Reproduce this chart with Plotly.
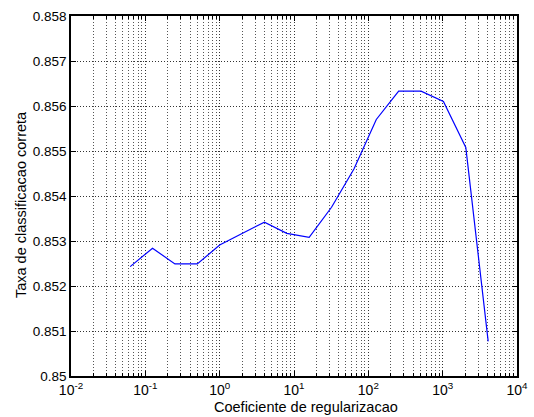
import numpy as np
import plotly.graph_objects as go

# Data
coef = [2.0 ** k for k in range(-4, 13)]
taxa = [0.85243, 0.85284, 0.85249, 0.85249, 0.85291, 0.85317, 0.85342, 0.85317,
        0.85308, 0.85375, 0.85460, 0.85570, 0.85633, 0.85633, 0.85610, 0.85508, 0.85077]

x_major = [1e-2, 1e-1, 1e0, 1e1, 1e2, 1e3, 1e4]
x_major_text = ["10<sup>-2</sup>", "10<sup>-1</sup>", "10<sup>0</sup>", "10<sup>1</sup>",
                "10<sup>2</sup>", "10<sup>3</sup>", "10<sup>4</sup>"]
y_ticks = [0.850, 0.851, 0.852, 0.853, 0.854, 0.855, 0.856, 0.857, 0.858]
y_ticks_text = ["0.85", "0.851", "0.852", "0.853", "0.854", "0.855", "0.856", "0.857", "0.858"]

x_title = "Coeficiente de regularizacao"
y_title = "Taxa de classificacao correta"

x_minor = [m * 10.0 ** d for d in range(-2, 4) for m in range(2, 10)]

fig = go.Figure()
fig.add_trace(go.Scatter(x=coef, y=taxa, mode="lines",
                         line=dict(color="#0000ff", width=1.2), showlegend=False))

font = dict(family="Liberation Sans, Arial, sans-serif", color="black")
dots = "1px,2px"

fig.update_layout(
    width=534, height=417,
    margin=dict(l=71, r=17, t=16, b=41),
    paper_bgcolor="white", plot_bgcolor="white",
    font=dict(size=12, **font),
    xaxis=dict(
        type="log", range=[-2, 4], automargin=False,
        tickmode="array", tickvals=x_major, ticktext=x_major_text,
        showgrid=True, gridcolor="#333333", griddash=dots, gridwidth=1,
        ticks="inside", ticklen=5, tickcolor="black",
        showline=True, linecolor="black", linewidth=1.5, mirror="allticks",
        minor=dict(tickmode="array", tickvals=x_minor, ticks="inside", ticklen=3,
                   tickcolor="black", showgrid=True, gridcolor="#555555",
                   griddash=dots, gridwidth=1),
        tickfont=dict(size=14, **font),
        zeroline=False,
    ),
    yaxis=dict(
        range=[0.85, 0.858], automargin=False,
        tickmode="array", tickvals=y_ticks, ticktext=y_ticks_text,
        showgrid=True, gridcolor="#333333", griddash=dots, gridwidth=1,
        ticks="inside", ticklen=5, tickcolor="black",
        showline=True, linecolor="black", linewidth=1.5, mirror="allticks",
        tickfont=dict(size=13.5, **font),
        zeroline=False,
    ),
    annotations=[
        dict(text=x_title, xref="paper", yref="paper", x=0.5258, y=-0.087,
             xanchor="center", yanchor="middle", showarrow=False,
             font=dict(size=14.5, **font)),
        dict(text=y_title, xref="paper", yref="paper", x=-0.112, y=0.475,
             xanchor="center", yanchor="middle", textangle=-90, showarrow=False,
             font=dict(size=14.5, **font)),
    ],
)

fig.write_html("out.html", config={"displayModeBar": False},
               post_script="document.body.style.margin='0px';")
